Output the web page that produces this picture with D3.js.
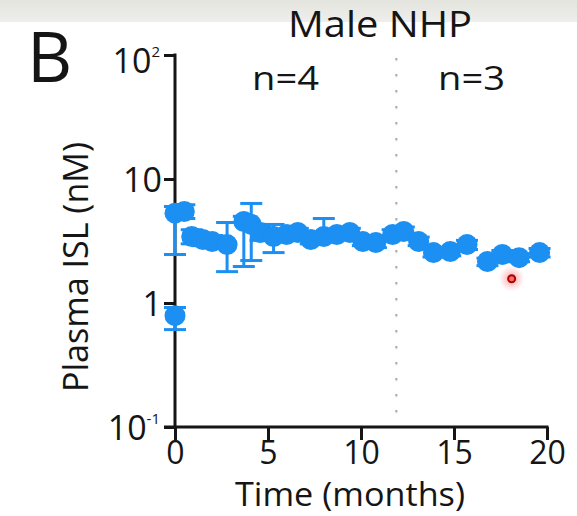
<!DOCTYPE html>
<html><head><meta charset="utf-8">
<script src="https://cdn.jsdelivr.net/npm/d3@7"></script>
<style>html,body{margin:0;padding:0;background:#fff;}svg{display:block;font-family:"Open Sans",sans-serif;}</style>
</head><body>
<script>
// Data
const times   = [0, 0, 0.5, 0.9, 1.5, 2.0, 2.8, 3.7, 4.1, 4.6, 5.3, 6.0, 6.6, 7.3, 8.0, 8.7, 9.4, 10.1, 10.8, 11.7, 12.3, 13.1, 13.9, 14.8, 15.7, 16.8, 17.6, 18.5, 19.6];
const means   = [0.79, 5.3, 5.47, 3.44, 3.25, 3.13, 2.96, 4.54, 4.3, 3.7, 3.44, 3.57, 3.7, 3.25, 3.44, 3.57, 3.7, 3.13, 3.07, 3.57, 3.77, 3.13, 2.55, 2.6, 2.96, 2.16, 2.46, 2.32, 2.55];
const lowers  = [0.61, 2.46, 4.8, 3.0, 2.9, 2.8, 1.79, 1.97, 2.2, 3.2, 2.55, 3.3, 3.4, 3.0, 3.1, 3.3, 3.4, 2.9, 2.8, 3.3, 3.5, 2.9, 2.35, 2.4, 2.7, 2.0, 2.25, 2.15, 2.35];
const uppers  = [0.92, 6.0, 6.2, 3.9, 3.6, 3.5, 4.46, 5.0, 6.35, 4.2, 4.3, 3.9, 4.0, 3.5, 4.8, 3.9, 4.0, 3.4, 3.3, 3.9, 4.1, 3.4, 2.75, 2.8, 3.2, 2.3, 2.65, 2.5, 2.75];
const outlierTime = 18.1, outlierValue = 1.57;
const xTicks = [0, 5, 10, 15, 20];
const yTicks = [0.1, 1, 10, 100];
const yTickLabels = [["10","-1"], ["1",""], ["10",""], ["10","2"]];
const dividerTime = 11.9;
const groupLabels = [{t: 6.0, text: "n=4"}, {t: 16.0, text: "n=3"}];

const W = 577, H = 516;
const blue = "#1b8ff2";
const ink = "#151515";
const svg = d3.select("body").append("svg").attr("width", W).attr("height", H);

const defs = svg.append("defs");
const bandG = defs.append("linearGradient").attr("id","band").attr("x1",0).attr("x2",0).attr("y1",0).attr("y2",1);
bandG.append("stop").attr("offset","0%").attr("stop-color","#e4e4df");
bandG.append("stop").attr("offset","100%").attr("stop-color","#eeeeea");
const glow = defs.append("radialGradient").attr("id","glow");
glow.append("stop").attr("offset","0%").attr("stop-color","rgba(255,80,80,0.55)");
glow.append("stop").attr("offset","100%").attr("stop-color","rgba(255,120,120,0)");

svg.append("rect").attr("x",0).attr("y",0).attr("width",W).attr("height",22).attr("fill","url(#band)");

const x = d3.scaleLinear().domain([0, 20]).range([175, 547]);
const y = d3.scaleLog().domain([0.1, 100]).range([427, 55]);

// Divider
svg.append("line").attr("x1", x(dividerTime)).attr("x2", x(dividerTime))
  .attr("y1", 58).attr("y2", y(0.1) - 4)
  .attr("stroke", "#b0b0b0").attr("stroke-width", 2.2).attr("stroke-dasharray", "2.5,13.5");

// Axes
const yAxis = svg.append("g").attr("transform", `translate(${x(0)},0)`)
  .call(d3.axisLeft(y).tickValues(yTicks).tickSize(11).tickSizeOuter(0).tickPadding(4).tickFormat(""));
const xAxis = svg.append("g").attr("transform", `translate(0,${y(0.1)})`)
  .call(d3.axisBottom(x).tickValues(xTicks).tickSize(13).tickSizeOuter(0).tickPadding(1).tickFormat(d3.format("d")));
[yAxis, xAxis].forEach(g => {
  g.select(".domain").attr("stroke", ink).attr("stroke-width", 3);
  g.selectAll(".tick line").attr("stroke", ink).attr("stroke-width", 3);
});
yAxis.select(".domain").attr("d", `M0,${y(100)-1.5}V${y(0.1)}`);
xAxis.select(".domain").attr("d", `M${x(0)-11},0H${x(20)+1.5}`);
xAxis.selectAll(".tick text").attr("font-size", 32).attr("fill", ink)
  .attr("font-family", '"Open Sans",sans-serif').attr("dy", "0.72em");

yAxis.selectAll(".tick text").each(function(d) {
  const i = yTicks.indexOf(d);
  const t = d3.select(this).attr("font-size", 34).attr("fill", ink)
    .attr("font-family", '"Open Sans",sans-serif').attr("dy", "0.36em").attr("x", -13);
  t.append("tspan").text(yTickLabels[i][0]);
  if (yTickLabels[i][1]) t.append("tspan").attr("font-size", 15).attr("dy", "-1.05em").text(yTickLabels[i][1]);
});
yAxis.selectAll(".tick").filter(d => d === 100).select("text").attr("x", -15).attr("dy", "0.5em");
yAxis.selectAll(".tick").filter(d => d === 0.1).select("text").attr("x", -15);

// Error bars
const idx = d3.range(times.length);
const eb = svg.append("g").attr("stroke", blue).attr("stroke-width", 3);
eb.selectAll("line.stem").data(idx).join("line").attr("class","stem")
  .attr("x1", i => x(times[i])).attr("x2", i => x(times[i]))
  .attr("y1", i => y(lowers[i])).attr("y2", i => y(uppers[i]));
eb.selectAll("line.lo").data(idx).join("line").attr("class","lo")
  .attr("x1", i => x(times[i]) - 11).attr("x2", i => x(times[i]) + 11)
  .attr("y1", i => y(lowers[i])).attr("y2", i => y(lowers[i]));
eb.selectAll("line.hi").data(idx).join("line").attr("class","hi")
  .attr("x1", i => x(times[i]) - 11).attr("x2", i => x(times[i]) + 11)
  .attr("y1", i => y(uppers[i])).attr("y2", i => y(uppers[i]));

// Points
svg.append("g").selectAll("circle").data(idx).join("circle")
  .attr("cx", i => x(times[i])).attr("cy", i => y(means[i])).attr("r", 10.5)
  .attr("fill", blue);

// Outlier red marker
svg.append("circle").attr("cx", x(outlierTime)).attr("cy", y(outlierValue)).attr("r", 13).attr("fill", "url(#glow)");
svg.append("circle").attr("cx", x(outlierTime)).attr("cy", y(outlierValue)).attr("r", 3.5)
  .attr("fill", "#f07070").attr("stroke", "#b00000").attr("stroke-width", 2);

// Texts
svg.append("text").attr("x", 27).attr("y", 82).attr("font-size", 70).attr("fill", ink).text("B");
svg.append("text").attr("x", 380).attr("y", 37).attr("text-anchor", "middle").attr("font-size", 36)
  .attr("textLength", 184).attr("lengthAdjust", "spacingAndGlyphs").attr("fill", ink).text("Male NHP");
svg.selectAll("text.n").data(groupLabels).join("text").attr("class","n")
  .attr("x", d => x(d.t) - 1).attr("y", 90).attr("text-anchor", "middle").attr("font-size", 32)
  .attr("textLength", 67).attr("lengthAdjust", "spacingAndGlyphs").attr("fill", ink).text(d => d.text);
svg.append("text").attr("transform", "translate(88,267) rotate(-90)").attr("text-anchor", "middle")
  .attr("font-size", 35).attr("textLength", 250).attr("lengthAdjust", "spacingAndGlyphs")
  .attr("fill", ink).text("Plasma ISL (nM)");
svg.append("text").attr("x", 350).attr("y", 506).attr("text-anchor", "middle").attr("font-size", 32)
  .attr("textLength", 230).attr("lengthAdjust", "spacingAndGlyphs").attr("fill", ink).text("Time (months)");
</script>
</body></html>
